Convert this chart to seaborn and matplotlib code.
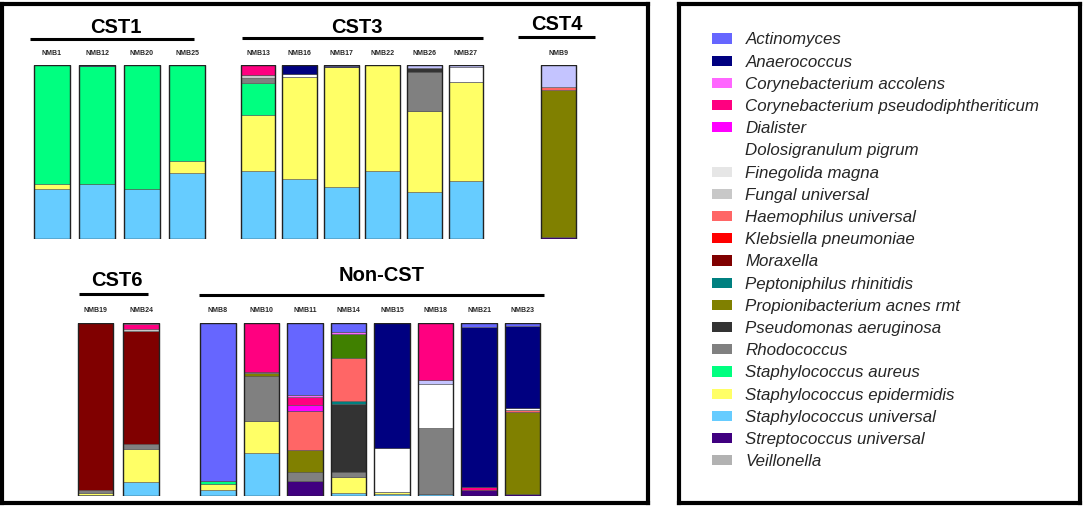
import pandas as pd
import matplotlib.pyplot as plt
import seaborn as sns
from matplotlib.patches import Patch

# stacking order, top of bar first (same order as the legend)
species = [
    "Actinomyces",
    "Anaerococcus",
    "Corynebacterium accolens",
    "Corynebacterium pseudodiphtheriticum",
    "Dialister",
    "unlisted lavender",
    "Dolosigranulum pigrum",
    "Finegolida magna",
    "Fungal universal",
    "unlisted green",
    "Haemophilus universal",
    "Klebsiella pneumoniae",
    "Moraxella",
    "Peptoniphilus rhinitidis",
    "Propionibacterium acnes rmt",
    "Pseudomonas aeruginosa",
    "Rhodococcus",
    "Staphylococcus aureus",
    "Staphylococcus epidermidis",
    "Staphylococcus universal",
    "Streptococcus universal",
    "Veillonella",
]

colors = [
    "#6666FF", "#000080", "#FF66FF", "#FF0080", "#FF00FF", "#C4C4FF",
    "#FFFFFF", "#E6E6E6", "#C8C8C8", "#408000", "#FF6666", "#FF0000",
    "#800000", "#008080", "#808000", "#333333", "#808080", "#00FF80",
    "#FFFF66", "#66CCFF", "#400080", "#B2B2B2",
]

in_legend = [s for s in species if not s.startswith("unlisted")]

cst1 = ["NMB1", "NMB12", "NMB20", "NMB25"]
cst3 = ["NMB13", "NMB16", "NMB17", "NMB22", "NMB26", "NMB27"]
cst4 = ["NMB9"]
cst6 = ["NMB19", "NMB24"]
noncst = ["NMB8", "NMB10", "NMB11", "NMB14", "NMB15", "NMB18", "NMB21", "NMB23"]

# relative abundance (%) per sample
nmb1 = {"Staphylococcus aureus": 68.7, "Staphylococcus epidermidis": 2.9, "Staphylococcus universal": 28.4}
nmb12 = {"Anaerococcus": 0.8, "Staphylococcus aureus": 67.7, "Staphylococcus universal": 31.5}
nmb20 = {"Staphylococcus aureus": 71.2, "Staphylococcus universal": 28.8}
nmb25 = {"Staphylococcus aureus": 55.3, "Staphylococcus epidermidis": 6.9, "Staphylococcus universal": 37.8}

nmb13 = {"Corynebacterium pseudodiphtheriticum": 6.0, "Fungal universal": 1.2, "Rhodococcus": 3.4,
         "Staphylococcus aureus": 18.0, "Staphylococcus epidermidis": 32.6, "Staphylococcus universal": 38.8}
nmb16 = {"Anaerococcus": 5.2, "Dolosigranulum pigrum": 1.7, "Staphylococcus epidermidis": 58.7,
         "Staphylococcus universal": 34.4}
nmb17 = {"Actinomyces": 0.6, "Anaerococcus": 0.8, "Staphylococcus epidermidis": 69.0,
         "Staphylococcus universal": 29.6}
nmb22 = {"Staphylococcus epidermidis": 61.2, "Staphylococcus universal": 38.8}
nmb26 = {"unlisted lavender": 1.5, "Pseudomonas aeruginosa": 2.3, "Rhodococcus": 22.8,
         "Staphylococcus epidermidis": 46.8, "Staphylococcus universal": 26.6}
nmb27 = {"unlisted lavender": 1.0, "Dolosigranulum pigrum": 9.0, "Staphylococcus epidermidis": 56.8,
         "Staphylococcus universal": 33.2}

nmb9 = {"unlisted lavender": 12.7, "Haemophilus universal": 1.5, "Propionibacterium acnes rmt": 85.0,
        "Streptococcus universal": 0.8}

nmb19 = {"Moraxella": 96.5, "Rhodococcus": 1.9, "Staphylococcus epidermidis": 0.8, "Staphylococcus universal": 0.8}
nmb24 = {"Corynebacterium accolens": 1.0, "Corynebacterium pseudodiphtheriticum": 2.7, "Fungal universal": 1.0,
         "Moraxella": 65.2, "Rhodococcus": 2.9, "Staphylococcus epidermidis": 19.3,
         "Staphylococcus universal": 7.9}

nmb8 = {"Actinomyces": 91.5, "Staphylococcus aureus": 1.5, "Staphylococcus epidermidis": 3.5,
        "Staphylococcus universal": 3.5}
nmb10 = {"Corynebacterium pseudodiphtheriticum": 28.5, "Fungal universal": 0.8, "Propionibacterium acnes rmt": 1.2,
         "Rhodococcus": 26.1, "Staphylococcus epidermidis": 18.8, "Staphylococcus universal": 24.6}
nmb11 = {"Actinomyces": 41.7, "Corynebacterium accolens": 1.2, "Corynebacterium pseudodiphtheriticum": 4.4,
         "Dialister": 3.8, "Haemophilus universal": 22.3, "Propionibacterium acnes rmt": 12.5,
         "Rhodococcus": 5.2, "Streptococcus universal": 8.9}
nmb14 = {"Actinomyces": 5.6, "Corynebacterium accolens": 1.0, "unlisted green": 14.0,
         "Haemophilus universal": 24.4, "Peptoniphilus rhinitidis": 1.9, "Pseudomonas aeruginosa": 39.0,
         "Rhodococcus": 2.9, "Staphylococcus epidermidis": 9.7, "Staphylococcus universal": 1.5}
nmb15 = {"Anaerococcus": 72.5, "Dolosigranulum pigrum": 25.2, "Staphylococcus epidermidis": 1.3,
         "Staphylococcus universal": 1.0}
nmb18 = {"Corynebacterium pseudodiphtheriticum": 33.1, "unlisted lavender": 2.1, "Dolosigranulum pigrum": 25.8,
         "Rhodococcus": 37.7, "Staphylococcus universal": 1.3}
nmb21 = {"Actinomyces": 2.3, "Anaerococcus": 92.5, "Corynebacterium pseudodiphtheriticum": 1.9,
         "Streptococcus universal": 3.3}
nmb23 = {"Actinomyces": 2.1, "Anaerococcus": 47.0, "Dolosigranulum pigrum": 1.2, "Haemophilus universal": 1.3,
         "Propionibacterium acnes rmt": 47.4, "Streptococcus universal": 1.0}

samples = {
    "NMB1": nmb1, "NMB12": nmb12, "NMB20": nmb20, "NMB25": nmb25,
    "NMB13": nmb13, "NMB16": nmb16, "NMB17": nmb17, "NMB22": nmb22, "NMB26": nmb26, "NMB27": nmb27,
    "NMB9": nmb9, "NMB19": nmb19, "NMB24": nmb24,
    "NMB8": nmb8, "NMB10": nmb10, "NMB11": nmb11, "NMB14": nmb14, "NMB15": nmb15,
    "NMB18": nmb18, "NMB21": nmb21, "NMB23": nmb23,
}

rows = []
for name, comp in samples.items():
    for sp, val in comp.items():
        rows.append({"sample": name, "species": sp, "value": val})
df = pd.DataFrame(rows)
palette = dict(zip(species, colors))

sns.set_theme(style="white")
plt.rcParams["font.family"] = ["Liberation Sans", "DejaVu Sans"]

W, H = 1084, 507
fig = plt.figure(figsize=(W / 100, H / 100), dpi=100)


def frac(left, top, width, height):
    return [left / W, 1 - (top + height) / H, width / W, height / H]


# the two framed panels
for box in [frac(2, 4, 646, 499), frac(679, 4, 401, 499)]:
    fr = fig.add_axes(box)
    fr.set_xticks([])
    fr.set_yticks([])
    for sp in fr.spines.values():
        sp.set_visible(True)
        sp.set_linewidth(3)
        sp.set_color("black")
leg_ax = fr

# group panels: (title, samples, axes box, bar shrink, title x/y, underline x0/x1/y)
groups = [
    ("CST1", cst1, frac(29.5, 65, 180, 173.7), 0.78, 0.48, 1.215, 0.0, 0.914, 1.15),
    ("CST3", cst3, frac(237.2, 65, 249.6, 173.7), 0.84, 0.479, 1.215, 0.019, 0.985, 1.155),
    ("CST4", cst4, frac(536, 65, 45, 173.7), 0.78, 0.467, 1.235, -0.4, 1.31, 1.16),
    ("CST6", cst6, frac(72.75, 322.7, 91, 173.3), 0.78, 0.49, 1.245, 0.069, 0.827, 1.167),
    ("Non-CST", noncst, frac(196.25, 322.7, 348, 173.3), 0.805, 0.534, 1.275, 0.008, 0.999, 1.16),
]

for title, names, box, shrink, tx, ty, lx0, lx1, ly in groups:
    ax = fig.add_axes(box)
    ax.set_facecolor("none")
    sub = df[df["sample"].isin(names)].copy()
    sub["sample"] = pd.Categorical(sub["sample"], categories=names)
    sns.histplot(data=sub, x="sample", weights="value", hue="species", hue_order=species,
                 multiple="stack", discrete=True, shrink=shrink, palette=palette,
                 alpha=1, edgecolor="#555555", linewidth=0.4, legend=False, ax=ax)
    totals = sub.groupby("sample", observed=False)["value"].sum().reset_index()
    sns.histplot(data=totals, x="sample", weights="value", discrete=True, shrink=shrink,
                 fill=False, color="#222222", linewidth=1.0, ax=ax)
    ax.set_xlim(-0.5, len(names) - 0.5)
    ax.set_ylim(0, 100)
    ax.set_xlabel("")
    ax.set_ylabel("")
    ax.set_yticks([])
    ax.xaxis.tick_top()
    ax.set_xticks(range(len(names)))
    ax.set_xticklabels(names, fontsize=5, fontweight="bold")
    ax.tick_params(axis="x", length=0, pad=6)
    for sp in ax.spines.values():
        sp.set_visible(False)
    ax.text(tx, ty, title, transform=ax.transAxes, ha="center", va="center",
            fontsize=14.5, fontweight="bold", color="black")
    ax.plot([lx0, lx1], [ly, ly], transform=ax.transAxes, color="black", lw=2.2,
            clip_on=False, solid_capstyle="butt")

handles = [Patch(facecolor=palette[s], edgecolor="none") for s in in_legend]
leg_ax.legend(handles, in_legend, loc="upper left", bbox_to_anchor=(0.082, 0.943),
              frameon=False, borderpad=0, borderaxespad=0, handlelength=1.2,
              handleheight=0.55, handletextpad=0.78, labelspacing=0.425,
              prop={"family": "Liberation Sans", "style": "italic", "size": 12.2})

fig.savefig("out.png", dpi=100)
